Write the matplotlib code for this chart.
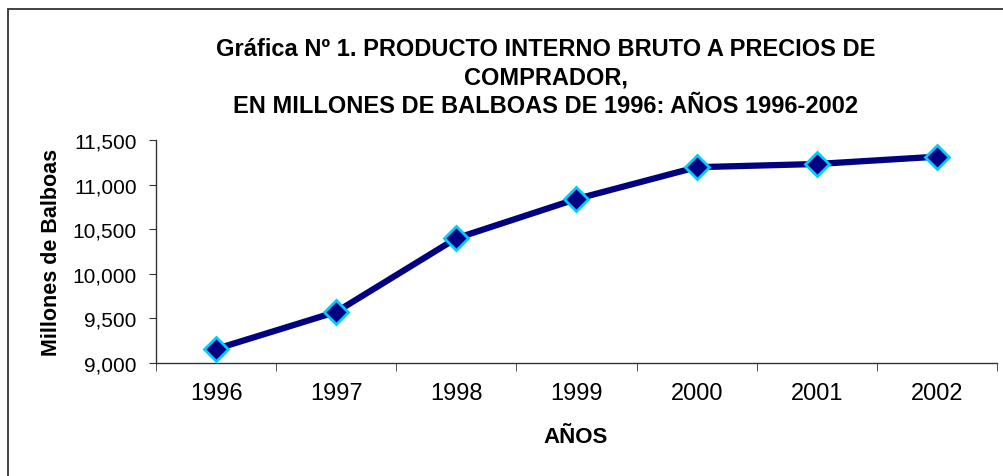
import matplotlib
matplotlib.use("Agg")
import matplotlib.pyplot as plt
from matplotlib.patches import Rectangle
from matplotlib.ticker import FuncFormatter, FixedLocator

years = ["1996", "1997", "1998", "1999", "2000", "2001", "2002"]
pib = [9157, 9573, 10398, 10839, 11195, 11231, 11313]
y_ticks = [9000, 9500, 10000, 10500, 11000, 11500]

plt.rcParams['font.family'] = ['Liberation Sans', 'DejaVu Sans']

W, H = 1004, 477
fig = plt.figure(figsize=(W / 100, H / 100), dpi=100)

# chart frame (only left and top edges are visible in the crop)
fig.patches.append(Rectangle((8 / W, -0.1), 1.2, 1 - 10 / H + 0.1, transform=fig.transFigure,
                             fill=False, edgecolor='#333333', linewidth=1.3))

ax = fig.add_axes([156 / W, 1 - 364 / H, (997 - 156) / W, (364 - 141) / H])
x = list(range(len(years)))
ax.plot(x, pib, color='#000080', linewidth=4.5, marker='D', markersize=12,
        markerfacecolor='#000080', markeredgecolor='#00CCFF', markeredgewidth=2,
        solid_joinstyle='round', zorder=3)

ax.set_xlim(-0.5, len(years) - 0.5)
ax.set_ylim(9000, 11500)
ax.set_yticks(y_ticks)
ax.yaxis.set_major_formatter(FuncFormatter(lambda v, p: f"{int(v):,}"))
ax.set_xticks(x)
ax.set_xticklabels(years)
ax.xaxis.set_minor_locator(FixedLocator([i - 0.5 for i in range(len(years) + 1)]))
ax.tick_params(axis='x', which='major', length=0, pad=14, labelsize=17)
ax.tick_params(axis='x', which='minor', length=6, color='#333333')
ax.tick_params(axis='y', length=5, color='#333333', labelsize=15, pad=9)
for s in ['top', 'right']:
    ax.spines[s].set_visible(False)
for s in ['left', 'bottom']:
    ax.spines[s].set_color('#333333')
    ax.spines[s].set_linewidth(1)

fig.text(546 / W, 1 - 38 / H, "Gráfica Nº 1. PRODUCTO INTERNO BRUTO A PRECIOS DE\nCOMPRADOR,\n"
         "EN MILLONES DE BALBOAS DE 1996: AÑOS 1996-2002",
         ha='center', va='top', fontsize=17, fontweight='bold', linespacing=1.3)
fig.text(576 / W, 1 - 438 / H, "AÑOS", ha='center', va='center', fontsize=16, fontweight='bold')
fig.text(52 / W, 1 - 252 / H, "Millones de Balboas", ha='center', va='center',
         rotation=90, fontsize=15.5, fontweight='bold')

fig.savefig("out.png", dpi=100)
